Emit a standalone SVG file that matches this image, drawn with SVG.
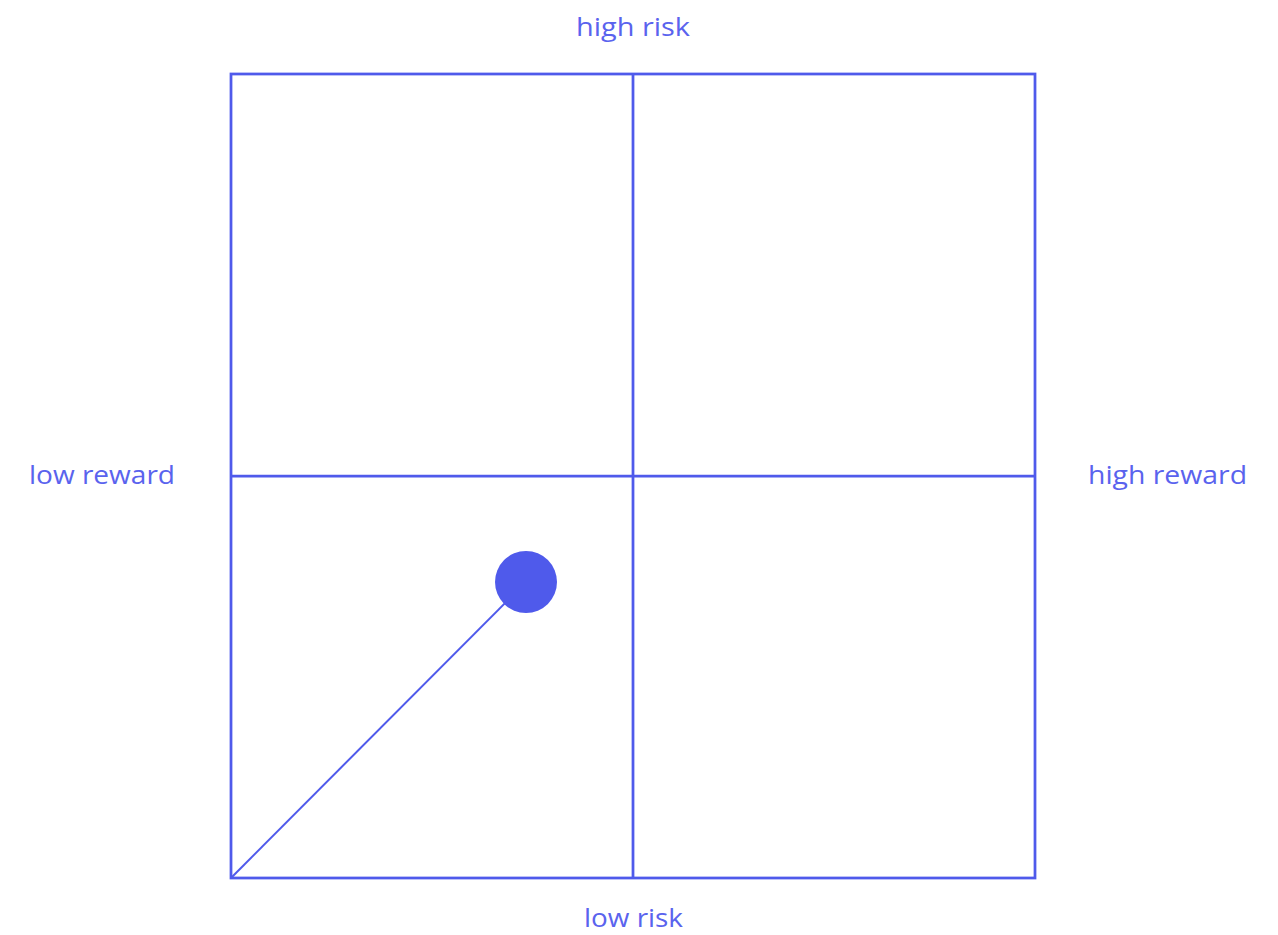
<svg xmlns="http://www.w3.org/2000/svg" width="1278" height="935" viewBox="0 0 1278 935">
<style>
.lbl{font-family:"Open Sans","Liberation Sans",sans-serif;font-size:26px;fill:#5a63ee}
.ln{stroke:#4f5aeb;stroke-width:2.75;fill:none}
</style>
<rect width="1278" height="935" fill="#fff"/>
<g id="grid">
<rect class="ln" x="231" y="74" width="804" height="804"/>
<line class="ln" x1="633" y1="74" x2="633" y2="878"/>
<line class="ln" x1="231" y1="476" x2="1035" y2="476"/>
</g>
<g id="connectors">
<line x1="231" y1="878" x2="526" y2="582" stroke="#4f5aeb" stroke-width="2"/>
</g>
<g id="point"><circle cx="526" cy="582" r="31" fill="#4f5aeb"/></g>
<g id="label-top"><text class="lbl" x="576" y="36" textLength="114" lengthAdjust="spacingAndGlyphs">high risk</text></g>
<g id="label-bottom"><text class="lbl" x="584" y="927" textLength="99" lengthAdjust="spacingAndGlyphs">low risk</text></g>
<g id="label-left"><text class="lbl" x="29" y="484" textLength="146" lengthAdjust="spacingAndGlyphs">low reward</text></g>
<g id="label-right"><text class="lbl" x="1088" y="484" textLength="159" lengthAdjust="spacingAndGlyphs">high reward</text></g>
</svg>
